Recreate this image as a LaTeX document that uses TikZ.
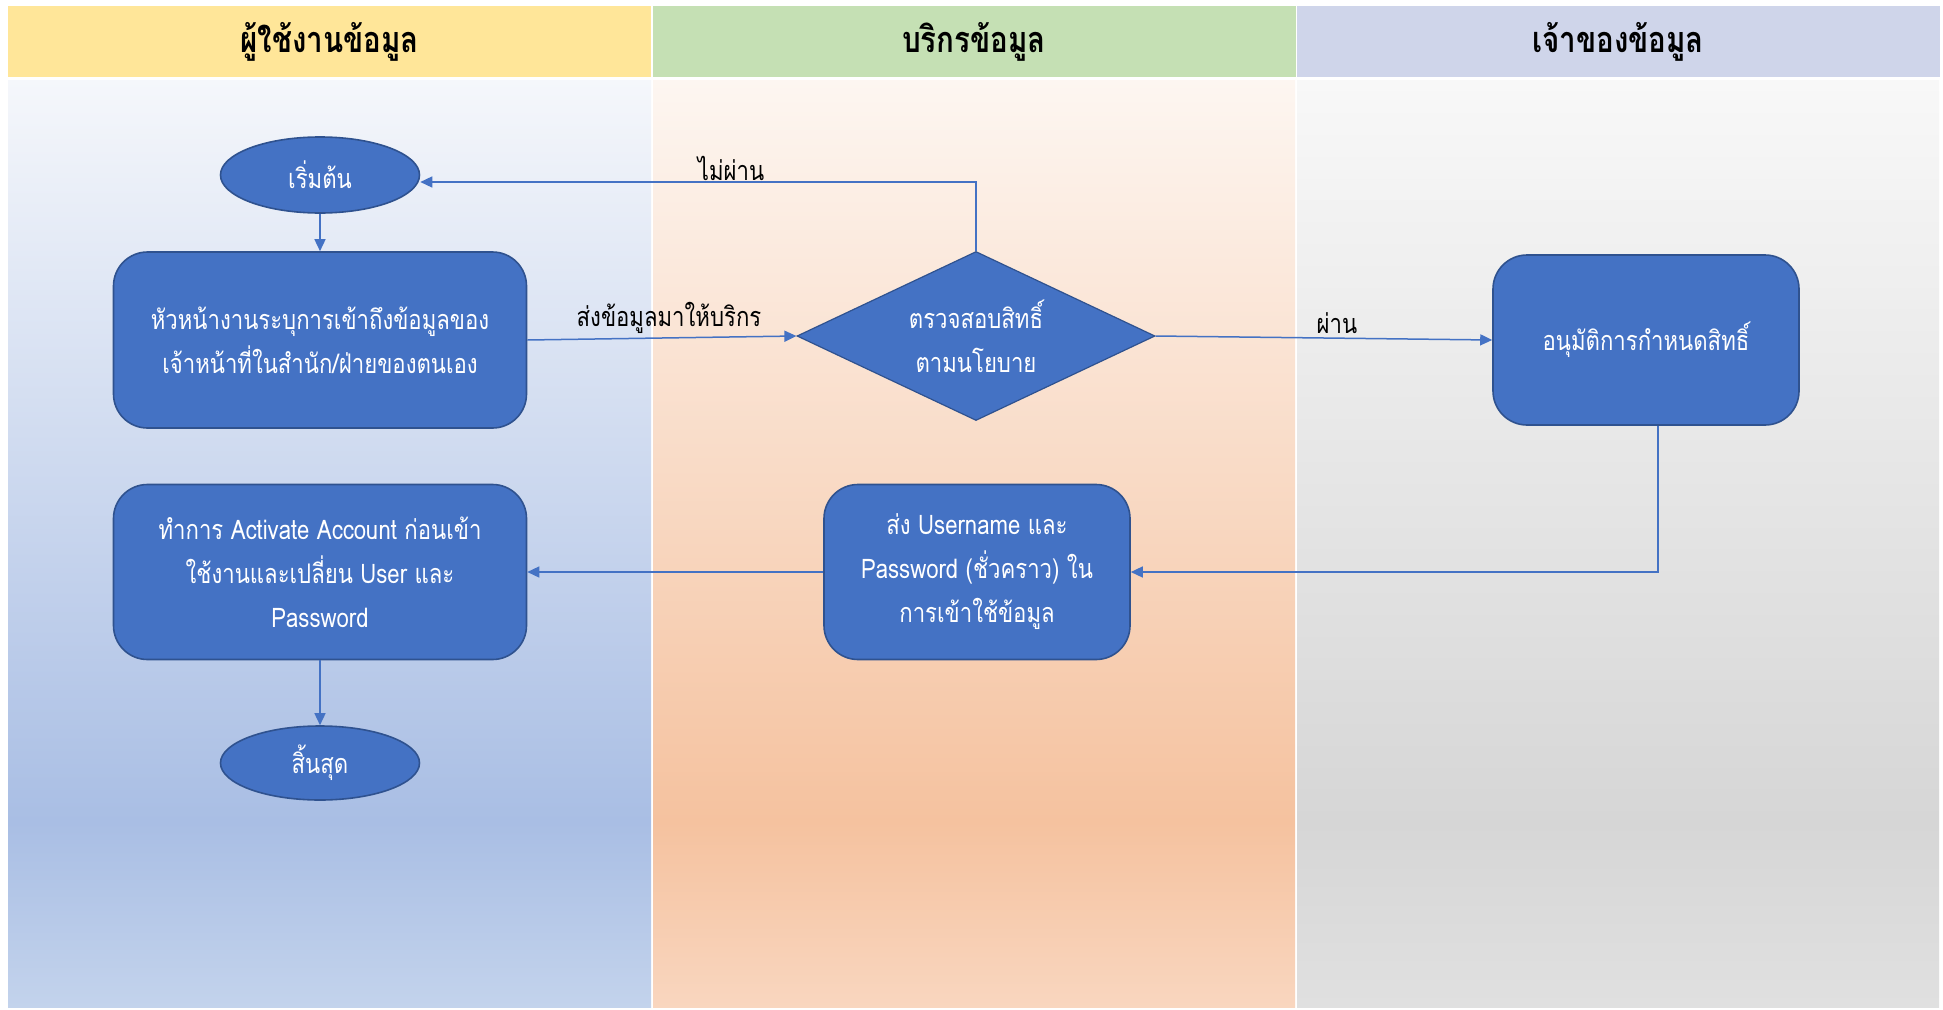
\documentclass[tikz,border=0pt]{standalone}
\usepackage{fontspec}
\newfontfamily\thai[Script=Thai,FakeStretch=0.82]{Loma}
\usetikzlibrary{shapes.geometric,arrows.meta}
\definecolor{hdrA}{HTML}{FFE699}
\definecolor{hdrB}{HTML}{C5E0B4}
\definecolor{hdrC}{HTML}{CFD5EA}
\definecolor{aTop}{HTML}{F5F7FB}
\definecolor{aMid}{HTML}{A9BEE4}
\definecolor{aBot}{HTML}{C3D3EC}
\definecolor{bTop}{HTML}{FDF6F1}
\definecolor{bMid}{HTML}{F5C29F}
\definecolor{bBot}{HTML}{F9D6BF}
\definecolor{cTop}{HTML}{F8F8F8}
\definecolor{cMid}{HTML}{D6D6D6}
\definecolor{cBot}{HTML}{E0E0E0}
\definecolor{nodeblue}{HTML}{4472C4}
\definecolor{nodeedge}{HTML}{2F528F}
\pgfdeclareverticalshading{laneA}{100bp}{color(0bp)=(aBot); color(25bp)=(aBot); color(35bp)=(aMid); color(75bp)=(aTop); color(100bp)=(aTop)}
\pgfdeclareverticalshading{laneB}{100bp}{color(0bp)=(bBot); color(25bp)=(bBot); color(35bp)=(bMid); color(75bp)=(bTop); color(100bp)=(bTop)}
\pgfdeclareverticalshading{laneC}{100bp}{color(0bp)=(cBot); color(25bp)=(cBot); color(35bp)=(cMid); color(75bp)=(cTop); color(100bp)=(cTop)}
\begin{document}
\begin{tikzpicture}[x=1pt,y=-1pt,
  hdr/.style={minimum width=643pt, minimum height=71pt, inner sep=0pt,
    font=\thai\bfseries\fontsize{36}{40}\selectfont, text=black},
  flowbox/.style={draw=nodeedge, line width=1.6pt, fill=nodeblue, text=white,
    rounded corners=34pt, inner sep=0pt, align=center,
    font=\thai\fontsize{27}{44}\selectfont},
  term/.style={ellipse, draw=nodeedge, line width=1.6pt, fill=nodeblue, text=white,
    inner sep=0pt, minimum width=199pt, minimum height=76pt,
    font=\thai\fontsize{27}{44}\selectfont},
  decide/.style={diamond, draw=nodeedge, line width=1.2pt, fill=nodeblue, text=white,
    inner sep=0pt, aspect=2.1, minimum width=358pt, minimum height=169pt, align=center,
    font=\thai\fontsize{27}{44}\selectfont},
  conn/.style={draw=nodeblue, line width=1.5pt, -{Triangle[length=12pt,width=11pt]}},
  lbl/.style={text=black, inner sep=0pt, font=\thai\fontsize{27}{32}\selectfont}
]
\useasboundingbox (0,0) rectangle (1943,1009);
\fill[white] (0,0) rectangle (1943,1009);
% headers
\node[hdr, fill=hdrA] (h1) at (329.5,41.5) {ผู้ใช้งานข้อมูล};
\node[hdr, fill=hdrB] (h2) at (974,41.5) {บริกรข้อมูล};
\node[hdr, fill=hdrC] (h3) at (1618,41.5) {เจ้าของข้อมูล};
% lanes
\fill[shading=laneA] (8,80) rectangle (651,1007);
\fill[shading=laneB] (653,80) rectangle (1295,1007);
\fill[shading=laneC] (1297,80) rectangle (1939,1007);
% nodes
\node[term] (start) at (320,175) {เริ่มต้น};
\node[flowbox, minimum width=413pt, minimum height=176pt] (b1) at (320,340)
  {หัวหน้างานระบุการเข้าถึงข้อมูลของ\\เจ้าหน้าที่ในสำนัก/ฝ่ายของตนเอง};
\node[decide] (dia) at (976,336) {ตรวจสอบสิทธิ์\\ตามนโยบาย};
\node[flowbox, minimum width=306pt, minimum height=170pt] (b3) at (1646,340) {อนุมัติการกำหนดสิทธิ์};
\node[flowbox, minimum width=306pt, minimum height=175pt] (b4) at (977,572)
  {ส่ง Username และ\\Password (ชั่วคราว) ใน\\การเข้าใช้ข้อมูล};
\node[flowbox, minimum width=413pt, minimum height=175pt] (b5) at (320,572)
  {ทำการ Activate Account ก่อนเข้า\\ใช้งานและเปลี่ยน User และ\\Password};
\node[term, minimum height=74pt] (end) at (320,763) {สิ้นสุด};
% connectors
\draw[conn] (start) -- (b1);
\draw[conn] (b1.east) -- (dia.west);
\draw[conn] (dia.north) |- ([yshift=-7pt]start.east);
\draw[conn] (dia.east) -- (b3.west);
\draw[conn] ([xshift=12pt]b3.south) |- (b4.east);
\draw[conn] (b4.west) -- (b5.east);
\draw[conn] (b5) -- (end);
% labels
\node[lbl] (l1) at (669,318) {ส่งข้อมูลมาให้บริกร};
\node[lbl] (l2) at (731,168) {ไม่ผ่าน};
\node[lbl] (l3) at (1337,323) {ผ่าน};
\end{tikzpicture}
\end{document}
